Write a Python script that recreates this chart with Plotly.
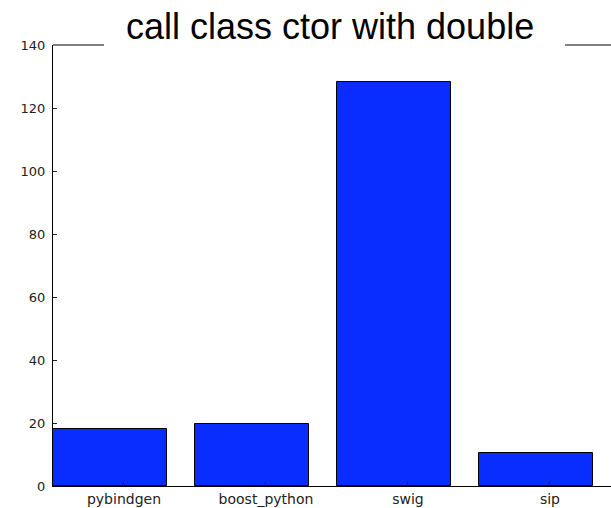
import plotly.graph_objects as go

# Timing results per binding generator
categories = ["pybindgen", "boost_python", "swig", "sip"]
values = [18.2, 19.7, 128.3, 10.5]
y_ticks = [0, 20, 40, 60, 80, 100, 120, 140]

bar_width = 0.8
lefts = list(range(len(categories)))
bar_x = [i + bar_width / 2 for i in lefts]

fig = go.Figure()
fig.add_trace(go.Bar(
    x=bar_x,
    y=values,
    width=bar_width,
    marker=dict(color="#0a2dff", line=dict(color="black", width=1)),
    showlegend=False,
    hoverinfo="skip",
))

axis_common = dict(
    ticks="inside",
    ticklen=4,
    tickcolor="#222",
    showline=True,
    linecolor="black",
    linewidth=1,
    showgrid=False,
    zeroline=False,
    layer="above traces",
)

fig.update_layout(
    width=611,
    height=508,
    margin=dict(l=53, r=0, t=45, b=22),
    paper_bgcolor="white",
    plot_bgcolor="white",
    bargap=0,
    xaxis=dict(
        range=[0, 3.93],
        tickmode="array",
        tickvals=[i + 0.5 for i in lefts],
        ticktext=categories,
        tickfont=dict(family="DejaVu Sans", size=14, color="#222"),
        **axis_common,
    ),
    yaxis=dict(
        range=[0, 140],
        tickmode="array",
        tickvals=y_ticks,
        ticklabelstandoff=4,
        tickfont=dict(family="DejaVu Sans", size=13, color="#222"),
        **axis_common,
    ),
    # top spine, interrupted where the title sits
    shapes=[
        dict(type="line", xref="paper", yref="paper", x0=0, x1=0.0914, y0=1, y1=1,
             line=dict(color="black", width=1)),
        dict(type="line", xref="paper", yref="paper", x0=0.9176, x1=1, y0=1, y1=1,
             line=dict(color="black", width=1)),
    ],
    annotations=[dict(
        text="call class ctor with double",
        xref="x",
        yref="paper",
        x=1.954,
        y=1,
        xanchor="center",
        yanchor="middle",
        yshift=19,
        showarrow=False,
        font=dict(family="Liberation Sans", size=36, color="black"),
    )],
)

fig.write_html("out.html")
